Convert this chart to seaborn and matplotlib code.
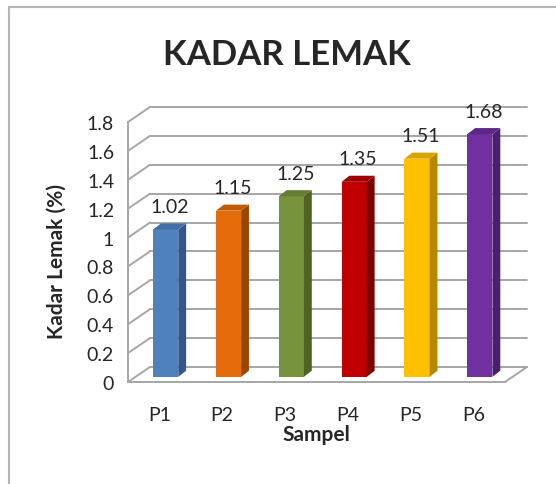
import numpy as np
import pandas as pd
import seaborn as sns
import matplotlib.pyplot as plt
from matplotlib.patches import Polygon, Rectangle

# data
samples = ['P1', 'P2', 'P3', 'P4', 'P5', 'P6']
kadar_lemak = [1.02, 1.15, 1.25, 1.35, 1.51, 1.68]
value_labels = ['1.02', '1.15', '1.25', '1.35', '1.51', '1.68']
y_ticks = [0, 0.2, 0.4, 0.6, 0.8, 1.0, 1.2, 1.4, 1.6, 1.8]
y_tick_labels = ['0', '0.2', '0.4', '0.6', '0.8', '1', '1.2', '1.4', '1.6', '1.8']

front_colors = ['#4F81BD', '#E46C0A', '#77933C', '#C00000', '#FFC000', '#7030A0']
side_colors = ['#34578A', '#9A4706', '#4F6228', '#7A0000', '#B58800', '#4A1F6D']
top_colors = ['#426EA8', '#C25B08', '#647D32', '#A00000', '#D9A300', '#5E2888']

df = pd.DataFrame({'Sampel': samples, 'Kadar': kadar_lemak})

sns.set_style('white')
plt.rcParams['font.family'] = ['Lato', 'DejaVu Sans']

W, H = 556, 485
fig = plt.figure(figsize=(W / 100, H / 100), dpi=100)
# front plane: x -0.5..5.5 -> px 128..505, y 0..1.8 -> px 383..123
ax = fig.add_axes([128 / W, 1 - 383 / H, 377 / W, 260 / H])

grid_c = '#A6A6A6'
depth_x, depth_y = 0.35, 0.104      # back wall offset (data units)
bar_off_x, bar_off_y = 0.10, 0.036  # bar front face position inside the depth
bar_dx, bar_dy = 0.125, 0.042       # bar depth

# back wall grid + left wall diagonals
for yv in y_ticks:
    ax.plot([-0.5 + depth_x, 5.5 + depth_x], [yv + depth_y, yv + depth_y],
            color=grid_c, lw=1.4, clip_on=False, zorder=1)
    ax.plot([-0.5, -0.5 + depth_x], [yv, yv + depth_y],
            color=grid_c, lw=1.4, clip_on=False, zorder=1)
ax.plot([5.5, 5.5 + depth_x], [0, depth_y], color=grid_c, lw=1.4, clip_on=False, zorder=1)

sns.barplot(data=df, x='Sampel', y='Kadar', hue='Sampel', palette=front_colors,
            saturation=1, width=0.4, legend=False, ax=ax, zorder=3, linewidth=0)

for i, p in enumerate(ax.patches):
    p.set_x(p.get_x() + bar_off_x)
    p.set_y(bar_off_y)
    x0, w, h = p.get_x(), p.get_width(), p.get_height()
    y0, y1 = bar_off_y, bar_off_y + h
    side = Polygon([(x0 + w, y0), (x0 + w + bar_dx, y0 + bar_dy),
                    (x0 + w + bar_dx, y1 + bar_dy), (x0 + w, y1)],
                   closed=True, facecolor=side_colors[i], edgecolor='none',
                   clip_on=False, zorder=3)
    top = Polygon([(x0, y1), (x0 + w, y1), (x0 + w + bar_dx, y1 + bar_dy),
                   (x0 + bar_dx, y1 + bar_dy)],
                  closed=True, facecolor=top_colors[i], edgecolor='none',
                  clip_on=False, zorder=3)
    ax.add_patch(side)
    ax.add_patch(top)
    ax.text(x0 + w / 2 + bar_dx / 2, y1 + 0.1, value_labels[i], ha='center',
            va='bottom', fontsize=14, color='#262626', clip_on=False, zorder=4)

ax.set_xlim(-0.5, 5.5)
ax.set_ylim(0, 1.8)
ax.set_yticks(y_ticks)
ax.set_yticklabels(y_tick_labels, fontsize=14)
ax.set_xticks(range(len(samples)))
ax.set_xticklabels(samples, fontsize=14)
ax.set_xticks(np.arange(-0.5, 6, 1), minor=True)
ax.tick_params(axis='x', which='major', length=0, pad=17)
ax.tick_params(axis='x', which='minor', length=6, width=1.4, color=grid_c)
ax.tick_params(axis='y', length=6, width=1.4, color=grid_c, pad=4)
ax.set_xlabel('Sampel', fontsize=15, fontweight='bold', labelpad=1)
ax.set_ylabel('')
for s in ['top', 'right']:
    ax.spines[s].set_visible(False)
for s in ['left', 'bottom']:
    ax.spines[s].set_color(grid_c)
    ax.spines[s].set_linewidth(1.4)
ax.set_facecolor('none')

fig.text(57 / W, 1 - 262 / H, 'Kadar Lemak (%)', rotation=90, ha='center',
         va='center', fontsize=15, fontweight='bold')
fig.text(287 / W, 1 - 55 / H, 'KADAR LEMAK', ha='center', va='center',
         fontsize=25, fontweight='bold')

fig.patches.append(Rectangle((9 / W, -0.1), 1.2, 1 - 8 / H + 0.1,
                             transform=fig.transFigure, fill=False,
                             edgecolor='#B5B5B5', lw=1.5))

fig.savefig('out.png', dpi=100)
